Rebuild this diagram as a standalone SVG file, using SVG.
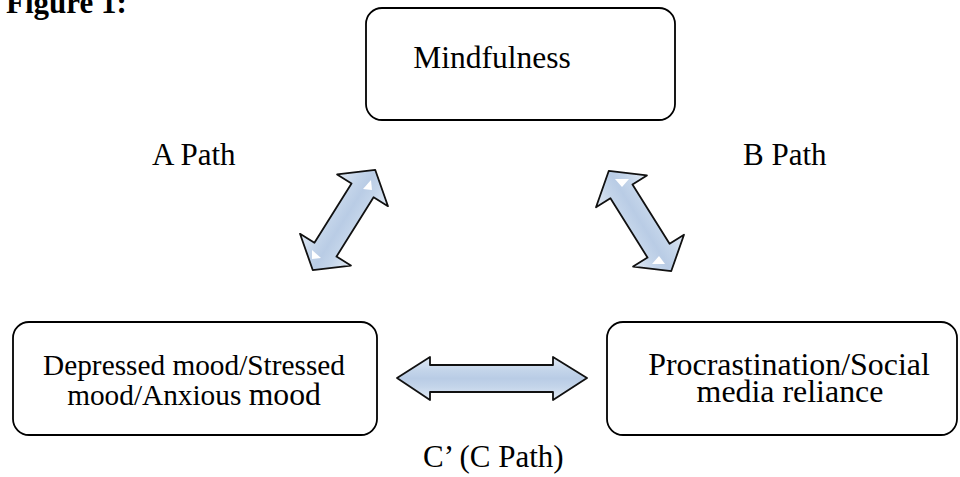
<svg xmlns="http://www.w3.org/2000/svg" width="960" height="477" viewBox="0 0 960 477">
  <style>
    .box { fill: #ffffff; stroke: #000000; stroke-width: 1.8; }
    .txt { font-family: "Liberation Serif", "Times New Roman", serif; fill: #000000; }
    .arrow { fill: url(#shaftFill); stroke: #111111; stroke-width: 1.8; stroke-linejoin: round; }
    .gloss { fill: #ffffff; }
  </style>
  <defs>
    <linearGradient id="shaftFill" x1="0" y1="0" x2="0" y2="1">
      <stop offset="0" stop-color="#e3ebf5"/>
      <stop offset="0.3" stop-color="#c4d5ea"/>
      <stop offset="0.5" stop-color="#b9cce5"/>
      <stop offset="0.7" stop-color="#c4d5ea"/>
      <stop offset="1" stop-color="#e3ebf5"/>
    </linearGradient>
    <!-- double-headed block arrow, drawn along the x axis and centred on the origin -->
    <polygon id="diagArrow" points="-59,0 -35,-30 -35,-13 35,-13 35,-30 59,0 35,30 35,13 -35,13 -35,30"/>
  </defs>

  <text class="txt" x="6" y="13" font-size="31" font-weight="bold">Figure 1:</text>

  <g id="node-mindfulness">
    <rect class="box" x="366" y="8" width="309" height="112" rx="16" ry="16"/>
    <text class="txt" x="492" y="68" font-size="31.5" text-anchor="middle">Mindfulness</text>
  </g>

  <g id="node-mood">
    <rect class="box" x="13" y="322" width="364" height="113" rx="16" ry="16"/>
    <text class="txt" x="194" y="375" font-size="29.3" text-anchor="middle">Depressed mood/Stressed</text>
    <text class="txt" x="194" y="405" font-size="29.3" text-anchor="middle">mood/Anxious <tspan font-size="31.7">mood</tspan></text>
  </g>

  <g id="node-procrastination">
    <rect class="box" x="607" y="322" width="350" height="113" rx="16" ry="16"/>
    <text class="txt" x="789" y="375" font-size="31.9" text-anchor="middle">Procrastination/Social</text>
    <text class="txt" x="790" y="402" font-size="31.9" text-anchor="middle">media reliance</text>
  </g>

  <g id="connectors">
    <g id="path-a">
      <use href="#diagArrow" class="arrow" transform="translate(344,220) rotate(-58)"/>
      <polygon class="gloss" points="363,189 371,180 372,190"/>
      <polygon class="gloss" points="312,250 312,259 321,258"/>
    </g>
    <g id="path-b">
      <use href="#diagArrow" class="arrow" transform="translate(640,221) rotate(58)"/>
      <polygon class="gloss" points="615,179 629,179 622,187"/>
      <polygon class="gloss" points="652,264 665,264 659,256"/>
    </g>
    <g id="path-c">
      <polygon class="arrow" points="397,378 430,357 430,365 553,365 553,357 587,378 553,400 553,392 430,392 430,400"/>
    </g>
  </g>

  <g id="labels">
    <text class="txt" x="152" y="165" font-size="31">A Path</text>
    <text class="txt" x="743" y="165" font-size="31">B Path</text>
    <text class="txt" x="423" y="467" font-size="31">C’ (C Path)</text>
  </g>
</svg>
